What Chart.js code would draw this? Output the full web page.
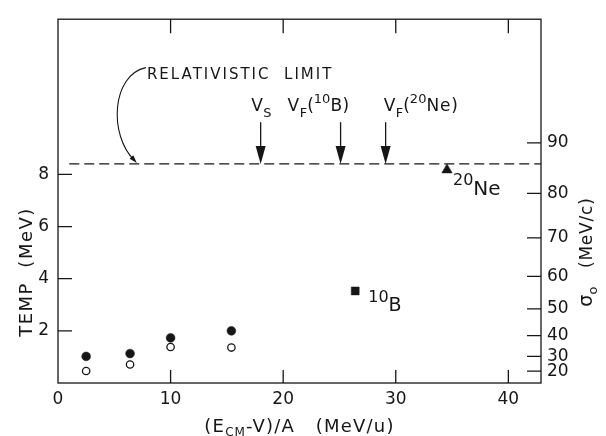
<!DOCTYPE html>
<html><head><meta charset="utf-8">
<script src="https://cdn.jsdelivr.net/npm/chart.js@4.4.1/dist/chart.umd.min.js"></script>
<style>html,body{margin:0;padding:0;background:#fff}#wrap{width:606px;height:436px}</style>
</head><body><div id="wrap"><canvas id="c" width="606" height="436"></canvas></div>
<script>
// ---- data ----
const xTicks = [0, 10, 20, 30, 40];
const tempTicks = [2, 4, 6, 8];
const sigmaTicks = [20, 30, 40, 50, 60, 70, 80, 90];
const SIGMA_SQ_PER_MEV = 880;           // sigma0^2 (MeV/c)^2 per MeV of TEMP
const closedX = [2.5, 6.4, 10.0, 15.4];
const closedT = [1.02, 1.13, 1.73, 2.0];
const openX = [2.5, 6.4, 10.0, 15.4];
const openT = [0.46, 0.71, 1.38, 1.36];
const boronX = [26.4];
const boronT = [3.53];
const neonX = [34.55];
const neonT = [8.17];
const relLimitT = 8.4;
const relLimitX = [1.0, 42.9];
const arrowX = [18.0, 25.1, 29.1];
const arrowTopT = 10.0;
const relTextAt = [7.9, 11.67];
const relTipAt = [7.0, 8.4];

const FONT = '"DejaVu Sans"';
const INK = '#161616';

function pts(xs, ys) { return xs.map((x, i) => ({ x, y: ys[i] })); }

function rich(ctx, segs, x, y, align) {
  let w = 0;
  const ms = segs.map(s => {
    ctx.font = s[1] + 'px ' + FONT; ctx.letterSpacing = (s[3] || 0) + 'px';
    const m = ctx.measureText(s[0]).width; w += m; return m;
  });
  let cx = align === 'center' ? x - w / 2 : align === 'right' ? x - w : x;
  ctx.textAlign = 'left'; ctx.textBaseline = 'alphabetic';
  segs.forEach((s, i) => {
    ctx.font = s[1] + 'px ' + FONT; ctx.letterSpacing = (s[3] || 0) + 'px';
    ctx.fillText(s[0], cx, y + (s[2] || 0)); cx += ms[i];
  });
  ctx.letterSpacing = '0px';
}

function arrowHead(ctx, x, y, ang, len, wid) {
  ctx.save(); ctx.translate(x, y); ctx.rotate(ang);
  ctx.beginPath(); ctx.moveTo(0, 0); ctx.lineTo(-len, -wid / 2); ctx.lineTo(-len, wid / 2); ctx.closePath();
  ctx.fill(); ctx.restore();
}

const decor = {
  id: 'decor',
  afterDraw(chart) {
    const ctx = chart.ctx, a = chart.chartArea;
    const sx = chart.scales.x, sy = chart.scales.y, s2 = chart.scales.y2;
    ctx.save();
    ctx.strokeStyle = INK; ctx.fillStyle = INK; ctx.lineWidth = 1.3;
    // frame
    ctx.strokeRect(a.left, a.top, a.right - a.left, a.bottom - a.top);
    // inward ticks
    ctx.beginPath();
    xTicks.forEach(v => {
      if (v === 0) return;
      const px = sx.getPixelForValue(v);
      ctx.moveTo(px, a.bottom); ctx.lineTo(px, a.bottom - 13);
      ctx.moveTo(px, a.top); ctx.lineTo(px, a.top + 14);
    });
    tempTicks.forEach(v => { const py = sy.getPixelForValue(v); ctx.moveTo(a.left, py); ctx.lineTo(a.left + 14, py); });
    sigmaTicks.forEach(s => { const py = s2.getPixelForValue(s * s / SIGMA_SQ_PER_MEV); ctx.moveTo(a.right, py); ctx.lineTo(a.right - 14, py); });
    ctx.stroke();

    // vertical arrows
    const tipY = sy.getPixelForValue(relLimitT), topY = sy.getPixelForValue(arrowTopT);
    arrowX.forEach(v => {
      const px = sx.getPixelForValue(v);
      ctx.beginPath(); ctx.moveTo(px, topY); ctx.lineTo(px, tipY - 10); ctx.stroke();
      arrowHead(ctx, px, tipY, Math.PI / 2, 18, 10);
    });
    // arrow labels
    const p0 = sx.getPixelForValue(arrowX[0]), p1 = sx.getPixelForValue(arrowX[1]), p2 = sx.getPixelForValue(arrowX[2]);
    const by = topY - 11;
    rich(ctx, [['V', 17, 0, 0.5], ['S', 13, 6]], p0 - 9.5, by, 'left');
    rich(ctx, [['V', 17, 0, 0.5], ['F', 13, 6], ['(', 17], ['10', 13, -8], ['B)', 17, 0, 0.5]], p1 - 53, by, 'left');
    rich(ctx, [['V', 17, 0, 0.5], ['F', 13, 6], ['(', 17], ['20', 13, -8], ['Ne)', 17, 0, 0.8]], p2 - 2, by, 'left');

    // relativistic limit label + curved arrow
    const tx = sx.getPixelForValue(relTextAt[0]), ty = sy.getPixelForValue(relTextAt[1]);
    rich(ctx, [['RELATIVISTIC  LIMIT', 15, 0, 2.0]], tx, ty, 'left');
    const kx = sx.getPixelForValue(relTipAt[0]), ky = sy.getPixelForValue(relTipAt[1]);
    ctx.lineWidth = 1.1;
    ctx.beginPath(); ctx.moveTo(tx - 1, ty - 11);
    ctx.bezierCurveTo(tx - 35, ty - 4, tx - 39, ty + 56, kx - 2, ky - 3);
    ctx.stroke();
    arrowHead(ctx, kx, ky - 1, Math.atan2(29, 26), 8, 5);

    // point labels
    const bx = sx.getPixelForValue(boronX[0]), byy = sy.getPixelForValue(boronT[0]);
    rich(ctx, [['10', 16, -9], ['B', 19]], bx + 13, byy + 20, 'left');
    const nx = sx.getPixelForValue(neonX[0]), ny = sy.getPixelForValue(neonT[0]);
    rich(ctx, [['20', 16, -10], ['Ne', 20]], nx + 6, ny + 25, 'left');

    // axis titles
    const cx = (a.left + a.right) / 2;
    rich(ctx, [['(E', 18, 0, 1.2], ['CM', 12, 4, 1], ['-V)/A   (MeV/u)', 18, 0, 1.2]], cx, 432, 'center');
    ctx.save(); ctx.translate(32, 272); ctx.rotate(-Math.PI / 2);
    rich(ctx, [['TEMP  (MeV)', 18, 0, 1.5]], 0, 0, 'center');
    ctx.restore();
    ctx.save(); ctx.translate(592, 252); ctx.rotate(-Math.PI / 2);
    rich(ctx, [['σ', 19], ['o', 13, 5], ['   (MeV/c)', 17, 0, 0.8]], 0, 0, 'center');
    ctx.restore();
    ctx.restore();
  }
};

Chart.defaults.font.family = FONT;
Chart.defaults.color = INK;

new Chart(document.getElementById('c'), {
  type: 'scatter',
  data: {
    datasets: [
      { data: pts(closedX, closedT), pointRadius: 4.4, pointBackgroundColor: INK, pointBorderColor: INK, pointBorderWidth: 0.5 },
      { data: pts(openX, openT), pointRadius: 3.7, pointBackgroundColor: '#fff', pointBorderColor: INK, pointBorderWidth: 1.3 },
      { data: pts(boronX, boronT), pointStyle: 'rect', pointRadius: 5.6, pointBackgroundColor: INK, pointBorderColor: INK, pointBorderWidth: 0.5 },
      { data: pts(neonX, neonT), pointStyle: 'triangle', pointRadius: 6, pointBackgroundColor: INK, pointBorderColor: INK, pointBorderWidth: 0.5 },
      { data: pts(relLimitX, [relLimitT, relLimitT]), showLine: true, pointRadius: 0, borderColor: INK, borderWidth: 1.3, borderDash: [10, 5] }
    ]
  },
  options: {
    responsive: false, animation: false, devicePixelRatio: 1,
    layout: { padding: { top: 11, left: 0, right: 0, bottom: 0 } },
    plugins: { legend: { display: false }, tooltip: { enabled: false } },
    scales: {
      x: {
        type: 'linear', position: 'bottom', min: 0, max: 42.9,
        grid: { display: false, drawTicks: false }, border: { display: false },
        afterBuildTicks: s => { s.ticks = xTicks.map(v => ({ value: v })); },
        afterFit: s => { s.height = 53; },
        ticks: { autoSkip: false, maxRotation: 0, padding: 6, font: { size: 17 }, color: INK }
      },
      y: {
        type: 'linear', position: 'left', min: 0, max: 13.95,
        grid: { display: false, drawTicks: false }, border: { display: false },
        afterBuildTicks: s => { s.ticks = tempTicks.map(v => ({ value: v })); },
        afterFit: s => { s.width = 58; },
        ticks: { autoSkip: false, padding: 9, font: { size: 17 }, color: INK }
      },
      y2: {
        type: 'linear', position: 'right', min: 0, max: 13.95,
        grid: { display: false, drawTicks: false }, border: { display: false },
        afterBuildTicks: s => { s.ticks = sigmaTicks.map(v => ({ value: v * v / SIGMA_SQ_PER_MEV })); },
        afterFit: s => { s.width = 65; },
        ticks: { autoSkip: false, padding: 6, font: { size: 17 }, color: INK, callback: (v, i) => String(sigmaTicks[i]) }
      }
    }
  },
  plugins: [decor]
});
</script>
</body></html>
